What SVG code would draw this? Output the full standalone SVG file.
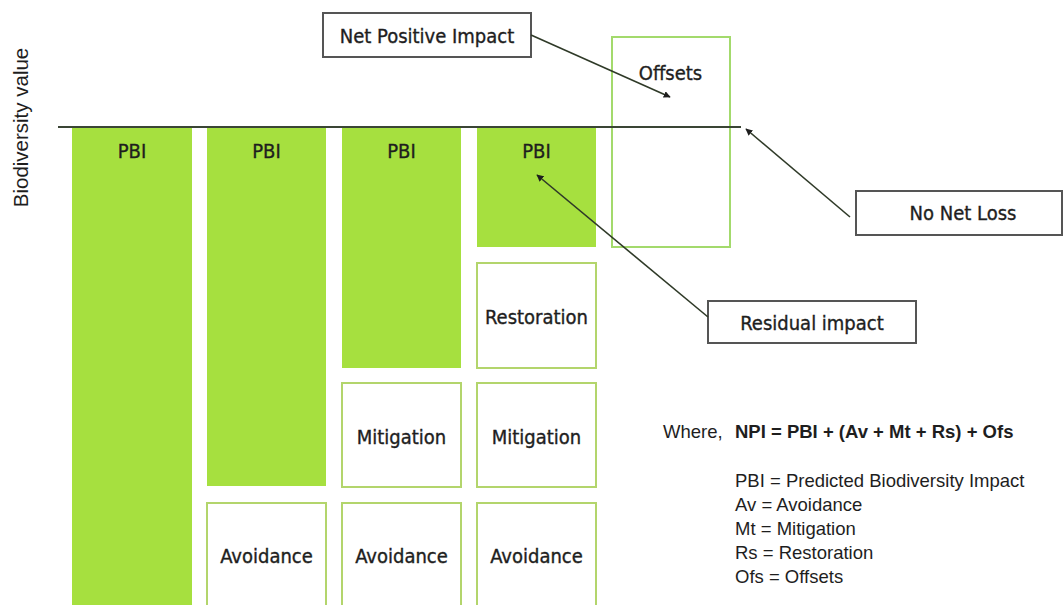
<svg xmlns="http://www.w3.org/2000/svg" width="1064" height="605" viewBox="0 0 1064 605">
  <style>
    .impact { fill: #a6e03f; }
    .stage { fill: #ffffff; stroke: #b3d56c; stroke-width: 2; }
    .offset { fill: #ffffff; stroke: #a3da6c; stroke-width: 2; }
    .callout { fill: #ffffff; stroke: #555555; stroke-width: 2; }
    .lbl { font-family: "DejaVu Sans Condensed", "DejaVu Sans", sans-serif; font-stretch: condensed; font-size: 20px; fill: #1e1e1e; stroke: #1e1e1e; stroke-width: 0.35; text-anchor: middle; }
    .legend { font-family: "Liberation Sans", Arial, sans-serif; font-size: 18.5px; fill: #1e1e1e; }
    .axis { font-size: 20.5px; text-anchor: middle; }
    .bold { font-weight: bold; }
    .link { stroke: #2f3a28; stroke-width: 1.6; fill: none; marker-end: url(#head); }
  </style>
  <defs>
    <marker id="head" viewBox="0 0 10 10" refX="9" refY="5" markerWidth="7" markerHeight="7" orient="auto" markerUnits="userSpaceOnUse">
      <path d="M0,0 L10,5 L0,10 z" fill="#1e1e1e"/>
    </marker>
  </defs>
  <rect width="1064" height="605" fill="#ffffff"/>

  <!-- vertical axis title -->
  <text class="legend axis" transform="translate(28,127.5) rotate(-90)">Biodiversity value</text>

  <!-- column 1: predicted impact only -->
  <g id="col1-pbi"><rect class="impact" x="72" y="128" width="120" height="477"/><text class="lbl" x="132" y="158">PBI</text></g>

  <!-- column 2: after avoidance -->
  <g id="col2-pbi"><rect class="impact" x="207" y="128" width="119" height="358"/><text class="lbl" x="266.5" y="158">PBI</text></g>
  <g id="col2-avoidance"><rect class="stage" x="207" y="503" width="119" height="110"/><text class="lbl" x="266.5" y="563">Avoidance</text></g>

  <!-- column 3: after mitigation -->
  <g id="col3-pbi"><rect class="impact" x="342" y="128" width="119" height="240"/><text class="lbl" x="401.5" y="158">PBI</text></g>
  <g id="col3-mitigation"><rect class="stage" x="342" y="383" width="119" height="104"/><text class="lbl" x="401.5" y="444">Mitigation</text></g>
  <g id="col3-avoidance"><rect class="stage" x="342" y="503" width="119" height="110"/><text class="lbl" x="401.5" y="563">Avoidance</text></g>

  <!-- column 4: after restoration -->
  <g id="col4-pbi"><rect class="impact" x="477" y="128" width="119" height="119"/><text class="lbl" x="536.5" y="158">PBI</text></g>
  <g id="col4-restoration"><rect class="stage" x="477" y="263" width="119" height="105"/><text class="lbl" x="536.5" y="324">Restoration</text></g>
  <g id="col4-mitigation"><rect class="stage" x="477" y="383" width="119" height="104"/><text class="lbl" x="536.5" y="444">Mitigation</text></g>
  <g id="col4-avoidance"><rect class="stage" x="477" y="503" width="119" height="110"/><text class="lbl" x="536.5" y="563">Avoidance</text></g>

  <!-- column 5: offsets -->
  <g id="offsets"><rect class="offset" x="612" y="37" width="118" height="210"/><text class="lbl" x="670.5" y="80">Offsets</text></g>

  <!-- zero line of biodiversity value -->
  <line x1="58" y1="127" x2="741" y2="127" stroke="#3a4535" stroke-width="2"/>

  <!-- callout boxes -->
  <g id="net-positive-impact"><rect class="callout" x="323" y="13" width="208" height="44"/><text class="lbl" x="427" y="43">Net Positive Impact</text></g>
  <g id="no-net-loss"><rect class="callout" x="856" y="191" width="206" height="44"/><text class="lbl" x="963" y="220">No Net Loss</text></g>
  <g id="residual-impact"><rect class="callout" x="708" y="301" width="208" height="42"/><text class="lbl" x="812" y="330">Residual impact</text></g>

  <!-- connectors -->
  <g id="connectors">
    <path class="link" d="M531,35 L670,97"/>
    <path class="link" d="M850,217 L746,129"/>
    <path class="link" d="M708,317 L537,175"/>
  </g>

  <!-- legend -->
  <g id="legend">
    <text class="legend" x="663" y="438">Where,</text>
    <text class="legend bold" x="735" y="438">NPI = PBI + (Av + Mt + Rs) + Ofs</text>
    <text class="legend" x="735" y="487">PBI = Predicted Biodiversity Impact</text>
    <text class="legend" x="735" y="511">Av = Avoidance</text>
    <text class="legend" x="735" y="535">Mt = Mitigation</text>
    <text class="legend" x="735" y="559">Rs = Restoration</text>
    <text class="legend" x="735" y="583">Ofs = Offsets</text>
  </g>
</svg>
